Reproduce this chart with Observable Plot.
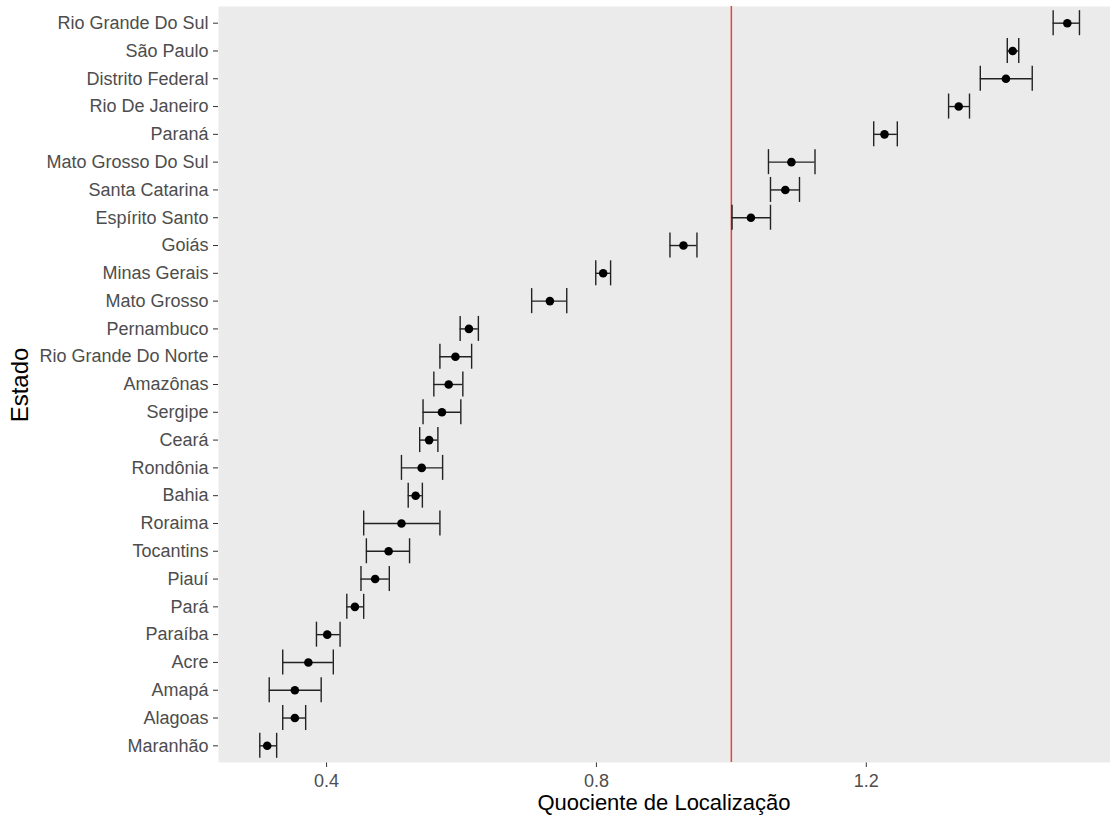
<!DOCTYPE html>
<html>
<head>
<meta charset="utf-8">
<script src="https://cdn.jsdelivr.net/npm/d3@7"></script>
<script src="https://cdn.jsdelivr.net/npm/@observablehq/plot@0.6"></script>
<style>
  html, body { margin: 0; padding: 0; background: #ffffff; }
  #wrap { position: relative; width: 1110px; height: 820px; font-family: "Liberation Sans", Arial, sans-serif; }
  #chart svg text { fill: #4D4D4D; }
  #xtitle { position: absolute; left: 218px; width: 892px; top: 793px; text-align: center; font-size: 22px; color: #000; line-height: 20px; }
  #ytitle { position: absolute; left: 20px; top: 385px; transform: translate(-50%, -50%) rotate(-90deg); font-size: 24px; color: #000; white-space: nowrap; line-height: 24px; }
</style>
</head>
<body>
<div id="wrap">
  <div id="chart"></div>
  <div id="xtitle">Quociente de Localização</div>
  <div id="ytitle">Estado</div>
</div>
<script>
const states = [
  "Rio Grande Do Sul", "São Paulo", "Distrito Federal", "Rio De Janeiro", "Paraná",
  "Mato Grosso Do Sul", "Santa Catarina", "Espírito Santo", "Goiás", "Minas Gerais",
  "Mato Grosso", "Pernambuco", "Rio Grande Do Norte", "Amazônas", "Sergipe",
  "Ceará", "Rondônia", "Bahia", "Roraima", "Tocantins",
  "Piauí", "Pará", "Paraíba", "Acre", "Amapá", "Alagoas", "Maranhão"
];
const qlMean = [
  1.498, 1.417, 1.407, 1.337, 1.227,
  1.089, 1.080, 1.029, 0.929, 0.810,
  0.731, 0.611, 0.591, 0.581, 0.571,
  0.552, 0.541, 0.532, 0.511, 0.492,
  0.472, 0.442, 0.401, 0.373, 0.353, 0.353, 0.312
];
const qlLower = [
  1.477, 1.409, 1.369, 1.322, 1.211,
  1.055, 1.058, 1.001, 0.909, 0.799,
  0.704, 0.598, 0.568, 0.559, 0.543,
  0.538, 0.511, 0.521, 0.455, 0.459,
  0.451, 0.430, 0.385, 0.335, 0.315, 0.335, 0.301
];
const qlUpper = [
  1.516, 1.426, 1.446, 1.353, 1.246,
  1.124, 1.101, 1.058, 0.949, 0.821,
  0.756, 0.625, 0.615, 0.602, 0.599,
  0.565, 0.572, 0.542, 0.568, 0.523,
  0.493, 0.455, 0.420, 0.410, 0.392, 0.369, 0.326
];
const xTicks = [0.4, 0.8, 1.2];
const xDomain = [0.2398, 1.562];
const referenceValue = [1];

const data = states.map((s, i) => ({estado: s, ql: qlMean[i], lo: qlLower[i], hi: qlUpper[i]}));

const chart = Plot.plot({
  width: 1110,
  height: 820,
  marginLeft: 218,
  marginRight: 0,
  marginTop: 6,
  marginBottom: 58,
  style: {fontFamily: "'Liberation Sans', Arial, sans-serif", fontSize: "18px", color: "#333333", background: "#ffffff"},
  x: {domain: xDomain, ticks: xTicks, tickFormat: d3.format(".1f"), tickSize: 5, tickPadding: 7, label: null},
  y: {type: "band", domain: states, paddingInner: 0.1, paddingOuter: 0.15, round: false, tickSize: 5, tickPadding: 5, label: null},
  marks: [
    Plot.frame({fill: "#EBEBEB", stroke: "none"}),
    Plot.ruleX(referenceValue, {x: d => d, stroke: "#E2473A", strokeWidth: 1.5}),
    Plot.ruleY(data, {y: "estado", x1: "lo", x2: "hi", stroke: "#222222", strokeWidth: 1.4}),
    Plot.tickX(data, {x: "lo", y: "estado", stroke: "#222222", strokeWidth: 1.4}),
    Plot.tickX(data, {x: "hi", y: "estado", stroke: "#222222", strokeWidth: 1.4}),
    Plot.dot(data, {x: "ql", y: "estado", r: 4.3, fill: "#000000", stroke: "none"})
  ]
});
document.getElementById("chart").appendChild(chart);
</script>
</body>
</html>
